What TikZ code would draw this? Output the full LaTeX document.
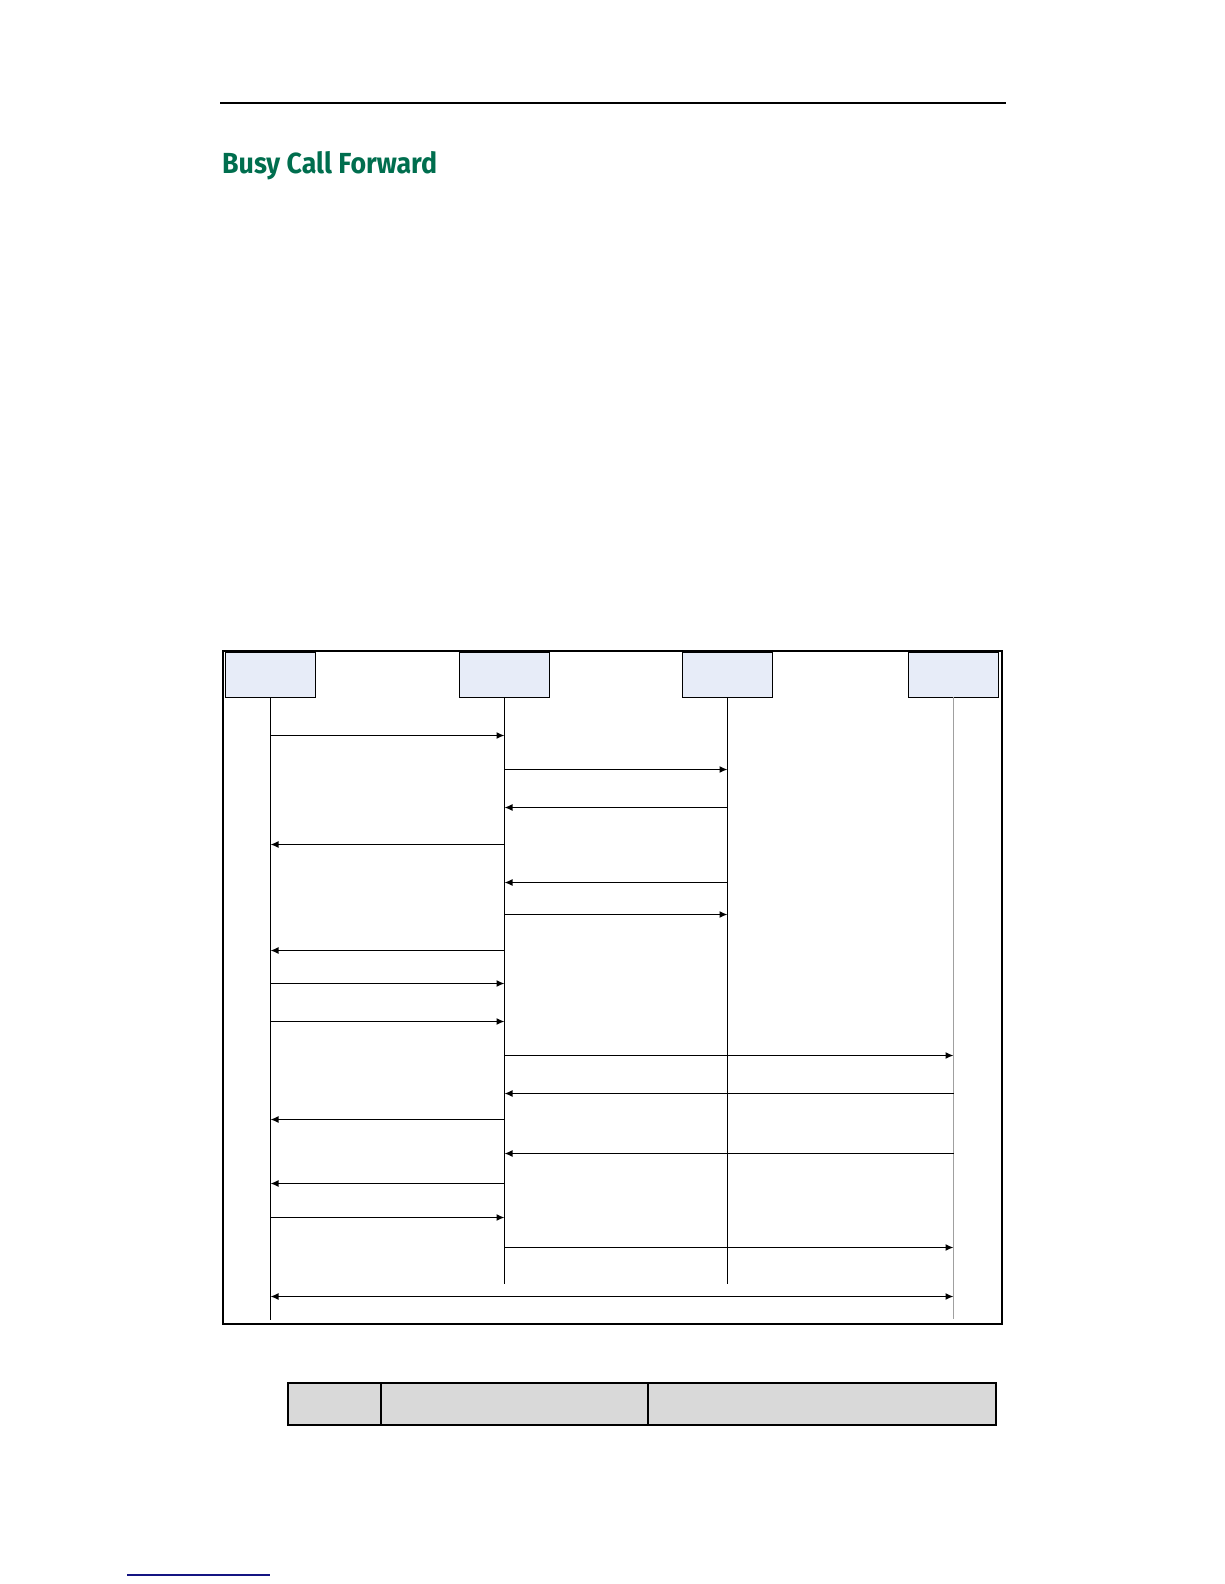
\documentclass[tikz,border=0pt]{standalone}
\usepackage{fontspec}
\usepackage{graphicx}
\newfontfamily\titlefont{Fira Sans}
\usetikzlibrary{arrows.meta}
\definecolor{titlegreen}{RGB}{0,110,78}
\definecolor{boxfill}{RGB}{231,236,248}
\definecolor{lifegray}{RGB}{160,160,160}
\definecolor{tablegray}{RGB}{217,217,217}
\definecolor{linkblue}{RGB}{20,20,130}
\tikzset{
  partbox/.style={draw=black, line width=1.5pt, fill=boxfill, minimum width=90pt, minimum height=45pt, inner sep=0pt, outer sep=0pt},
  lifeline/.style={line width=1.4pt, black},
  msg/.style={line width=1.4pt, -{Latex[length=8pt,width=7pt]}},
  msgboth/.style={line width=1.4pt, {Latex[length=8pt,width=7pt]}-{Latex[length=8pt,width=7pt]}},
  cell/.style={draw=black, line width=1.8pt, fill=tablegray, minimum height=42pt, inner sep=0pt, outer sep=0pt, anchor=north west}
}
\begin{document}
\begin{tikzpicture}[x=1pt,y=-1pt]
\useasboundingbox (0,0) rectangle (1224,1584);
% header rule
\coordinate (hl) at (220,103);
\coordinate (hr) at (1006,103);
\draw[line width=2.6pt] (hl) -- (hr);
% title
\node[anchor=north west, inner sep=0pt, text=titlegreen] (title) at (222,151.5)
  {\resizebox*{215pt}{28.5pt}{\titlefont\bfseries Busy Call Forward}};
% frame
\node[draw=black, line width=1.8pt, minimum width=779pt, minimum height=673.3pt, anchor=north west, inner sep=0pt] (frame) at (222.3,649.7) {};
% participants
\node[partbox] (b1) at (270.5,674.8) {};
\node[partbox] (b2) at (504.5,674.8) {};
\node[partbox] (b3) at (727.5,674.8) {};
\node[partbox] (b4) at (953.5,674.8) {};
% lifeline ends
\coordinate (e1) at (270.5,1320);
\coordinate (e2) at (504.5,1284);
\coordinate (e3) at (727.5,1284);
\coordinate (e4) at (953.5,1319);
\draw[lifeline] (b1.south) -- (e1);
\draw[lifeline] (b2.south) -- (e2);
\draw[lifeline] (b3.south) -- (e3);
\draw[line width=1.2pt, lifegray] (b4.south) -- (e4);
% message rows
\foreach \n/\y in {1/735.5,2/769.5,3/807.5,4/844.5,5/882.5,6/914.5,7/950.5,8/983.5,9/1021.5,10/1055.5,11/1093.5,12/1119.5,13/1153.5,14/1183.5,15/1217.5,16/1247.5,17/1296.5}
  {\coordinate (r\n) at (0,\y);}
\draw[msg] (b1 |- r1) -- (b2 |- r1);
\draw[msg] (b2 |- r2) -- (b3 |- r2);
\draw[msg] (b3 |- r3) -- (b2 |- r3);
\draw[msg] (b2 |- r4) -- (b1 |- r4);
\draw[msg] (b3 |- r5) -- (b2 |- r5);
\draw[msg] (b2 |- r6) -- (b3 |- r6);
\draw[msg] (b2 |- r7) -- (b1 |- r7);
\draw[msg] (b1 |- r8) -- (b2 |- r8);
\draw[msg] (b1 |- r9) -- (b2 |- r9);
\draw[msg] (b2 |- r10) -- (b4 |- r10);
\draw[msg] (b4 |- r11) -- (b2 |- r11);
\draw[msg] (b2 |- r12) -- (b1 |- r12);
\draw[msg] (b4 |- r13) -- (b2 |- r13);
\draw[msg] (b2 |- r14) -- (b1 |- r14);
\draw[msg] (b1 |- r15) -- (b2 |- r15);
\draw[msg] (b2 |- r16) -- (b4 |- r16);
\draw[msgboth] (b1 |- r17) -- (b4 |- r17);
% table header row
\node[cell, minimum width=93pt] (c1) at (288,1383) {};
\node[cell, minimum width=267pt] (c2) at (c1.north east) {};
\node[cell, minimum width=348pt] (c3) at (c2.north east) {};
% footer link line
\coordinate (fl) at (127,1575);
\coordinate (fr) at (270,1575);
\draw[linkblue, line width=1.5pt] (fl) -- (fr);
\end{tikzpicture}
\end{document}
